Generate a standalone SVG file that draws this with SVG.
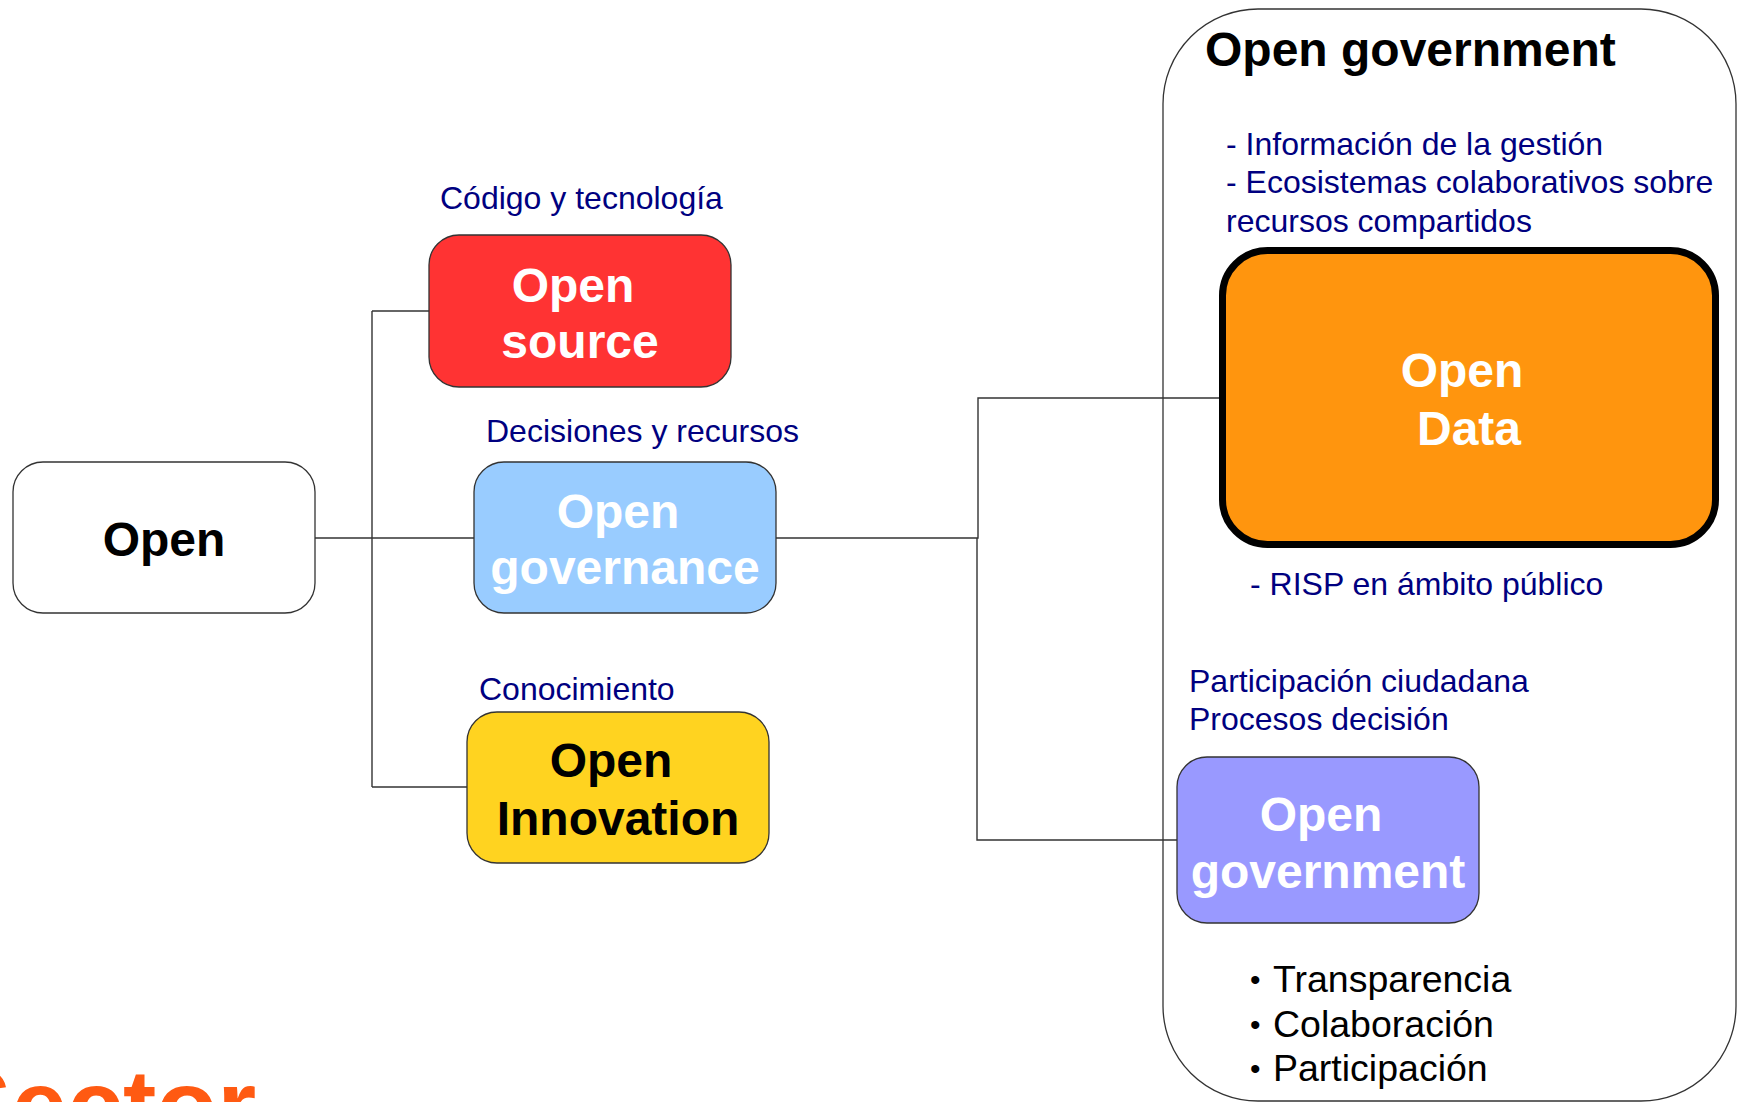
<svg xmlns="http://www.w3.org/2000/svg" width="1740" height="1102" viewBox="0 0 1740 1102">
<style>
.box{stroke:#333;stroke-width:1.3}
.wt{font-family:"Liberation Sans",Arial,sans-serif;font-weight:bold;font-size:48px;fill:#fff;text-anchor:middle}
.bt{font-family:"Liberation Sans",Arial,sans-serif;font-weight:bold;font-size:48px;fill:#000;text-anchor:middle}
.lbl{font-family:"Liberation Sans",Arial,sans-serif;font-size:32px;fill:#000080}
.bul{font-family:"Liberation Sans",Arial,sans-serif;font-size:37.5px;fill:#000}
.dot{font-family:"Liberation Sans",Arial,sans-serif;font-size:30px;fill:#000}
.con{fill:none;stroke:#333;stroke-width:1.4}
</style>
<rect width="1740" height="1102" fill="#fff"/>
<g id="container">
<rect x="1163" y="9" width="573" height="1092" rx="95" ry="95" fill="none" stroke="#333" stroke-width="1.3"/>
<text x="1205" y="66" font-family="Liberation Sans, Arial, sans-serif" font-weight="bold" font-size="48" fill="#000">Open government</text>
<text class="lbl" x="1226" y="155">- Información de la gestión</text>
<text class="lbl" x="1226" y="193">- Ecosistemas colaborativos sobre</text>
<text class="lbl" x="1226" y="232">recursos compartidos</text>
<text class="lbl" x="1250" y="595">- RISP en ámbito público</text>
<text class="lbl" x="1189" y="692">Participación ciudadana</text>
<text class="lbl" x="1189" y="730">Procesos decisión</text>
<text class="dot" x="1250" y="990">•</text><text class="bul" x="1273" y="992">Transparencia</text>
<text class="dot" x="1250" y="1035">•</text><text class="bul" x="1273" y="1037">Colaboración</text>
<text class="dot" x="1250" y="1079">•</text><text class="bul" x="1273" y="1081">Participación</text>
</g>
<g id="connectors">
<path class="con" d="M315 538 H474"/>
<path class="con" d="M372 311 V787"/>
<path class="con" d="M372 311 H429"/>
<path class="con" d="M372 787 H467"/>
<path class="con" d="M776 538 H978 V398 H1220"/>
<path class="con" d="M977 538 V840 H1177"/>
</g>
<g id="n-open">
<rect class="box" x="13" y="462" width="302" height="151" rx="30" fill="#fff"/>
<text class="bt" x="164" y="556">Open</text>
</g>
<g id="n-source">
<text class="lbl" x="440" y="209">Código y tecnología</text>
<rect class="box" x="429" y="235" width="302" height="152" rx="30" fill="#ff3333"/>
<text class="wt" x="573" y="302">Open</text>
<text class="wt" x="580" y="358">source</text>
</g>
<g id="n-governance">
<text class="lbl" x="486" y="442">Decisiones y recursos</text>
<rect class="box" x="474" y="462" width="302" height="151" rx="30" fill="#99ccff"/>
<text class="wt" x="618" y="528">Open</text>
<text class="wt" x="625" y="584">governance</text>
</g>
<g id="n-innovation">
<text class="lbl" x="479" y="700">Conocimiento</text>
<rect class="box" x="467" y="712" width="302" height="151" rx="30" fill="#ffd320"/>
<text class="bt" x="611" y="777">Open</text>
<text class="bt" x="618" y="835">Innovation</text>
</g>
<g id="n-opendata">
<rect x="1222.5" y="250.5" width="493" height="294" rx="45" fill="#ff950e" stroke="#000" stroke-width="7"/>
<text class="wt" x="1462" y="387">Open</text>
<text class="wt" x="1469" y="445">Data</text>
</g>
<g id="n-opengov">
<rect class="box" x="1177" y="757" width="302" height="166" rx="30" fill="#9999ff"/>
<text class="wt" x="1321" y="831">Open</text>
<text class="wt" x="1328" y="888">government</text>
</g>
<text x="-55" y="1140" font-family="Liberation Sans, Arial, sans-serif" font-weight="bold" font-size="100" fill="#ff5a12">Sector</text>
</svg>
